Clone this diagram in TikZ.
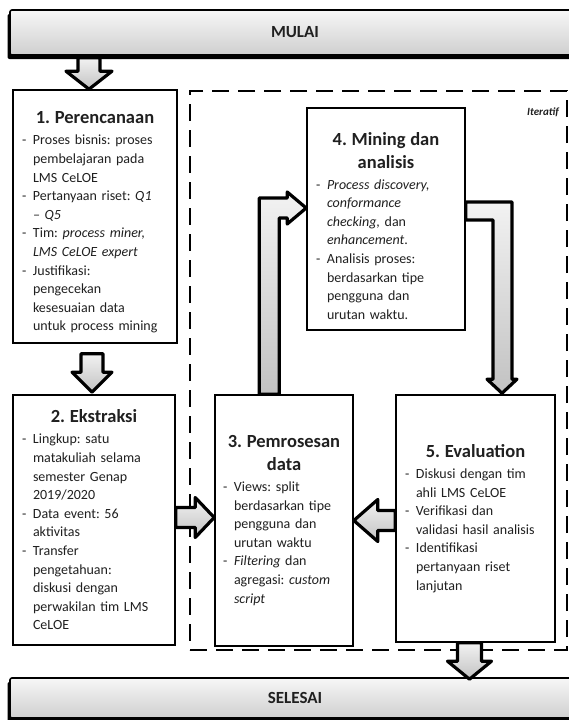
\documentclass[tikz,border=0pt]{standalone}
\usepackage{fontspec}
\setmainfont{Carlito}
\usetikzlibrary{calc,shadows}
\definecolor{txt}{HTML}{202020}
\newcommand\itm[1]{\par\noindent\hangindent=11pt\hangafter=1\makebox[11pt][l]{-}#1\par}
\newcommand\ttl[1]{{\centering\fontsize{18.5}{22.5}\selectfont\bfseries #1\par}\vspace{2.5pt}}
\newcommand\nl{\newline}
\newcommand\dnarr[5]{\draw[blk] let \p1=(#1), \p2=(#2) in (\x2-#3,\y1) -- (\x2+#3,\y1) -- (\x2+#3,\y2+#5) -- (\x2+#4,\y2+#5) -- (\x2,\y2) -- (\x2-#4,\y2+#5) -- (\x2-#3,\y2+#5) -- cycle;}
\newcommand\rtarr[5]{\draw[blk] let \p1=(#1), \p2=(#2) in (\x1,\y2+#3) -- (\x2-#5,\y2+#3) -- (\x2-#5,\y2+#4) -- (\x2,\y2) -- (\x2-#5,\y2-#4) -- (\x2-#5,\y2-#3) -- (\x1,\y2-#3) -- cycle;}
\newcommand\ltarr[5]{\draw[blk] let \p1=(#1), \p2=(#2) in (\x1,\y2+#3) -- (\x2+#5,\y2+#3) -- (\x2+#5,\y2+#4) -- (\x2,\y2) -- (\x2+#5,\y2-#4) -- (\x2+#5,\y2-#3) -- (\x1,\y2-#3) -- cycle;}
\begin{document}
\frenchspacing
\begin{tikzpicture}[x=1pt,y=-1pt,
  bar/.style={draw=black, line width=1.6pt, rounded corners=2pt, top color=gray!6, bottom color=gray!38,
    minimum width=570pt, text=txt, font=\fontsize{17}{20}\selectfont\bfseries,
    drop shadow={shadow xshift=-2.5pt, shadow yshift=-4pt, fill=black, opacity=1}},
  box/.style={draw=black, line width=1.6pt, fill=white, inner xsep=9pt, inner ysep=0pt, text=txt,
    font=\fontsize{14}{18.6}\selectfont\frenchspacing},
  frame/.style={draw=black, line width=2pt, dash pattern=on 17pt off 9pt, inner sep=0pt},
  blk/.style={draw=black, line width=3.2pt, line join=round, top color=gray!10, bottom color=gray!48}]
\useasboundingbox (0,0) rectangle (569,720);
\fill[white] (0,0) rectangle (569,720);

% bars
\node[bar, minimum height=45pt] (mulai) at (295,32.5) {MULAI};
\node[bar, minimum height=40pt] (selesai) at (295,698) {SELESAI};

% iterative frame
\node[frame, minimum width=377pt, minimum height=559pt] (frame) at (378.5,370.5) {};
\node[anchor=east, inner sep=0pt, text=txt, font=\fontsize{11}{13}\selectfont\bfseries\itshape] (iter) at (559,112) {Iteratif};

% boxes
\node[box, minimum width=164pt, minimum height=253pt, text width=146pt] (b1) at (95,216.5) {\parindent=0pt\raggedright
\ttl{\rule{0pt}{24pt}1. Perencanaan}
\itm{Proses bisnis: proses\nl pembelajaran pada\nl LMS CeLOE}
\itm{Pertanyaan riset: \textit{Q1}\nl \textit{– Q5}}
\itm{Tim: \textit{process miner,}\nl \textit{LMS CeLOE expert}}
\itm{Justifikasi:\nl pengecekan\nl kesesuaian data\nl untuk process mining}};

\node[box, minimum width=162pt, minimum height=250pt, text width=144pt] (b2) at (94,520) {\parindent=0pt\raggedright
\ttl{2. Ekstraksi}
\itm{Lingkup: satu\nl matakuliah selama\nl semester Genap\nl 2019/2020}
\itm{Data event: 56\nl aktivitas}
\itm{Transfer\nl pengetahuan:\nl diskusi dengan\nl perwakilan tim LMS\nl CeLOE}};

\node[box, minimum width=138pt, minimum height=251pt, text width=122pt, inner xsep=8pt] (b3) at (284,520.5) {\parindent=0pt\raggedright
\ttl{3. Pemrosesan\\data}
\itm{Views: split\nl berdasarkan tipe\nl pengguna dan\nl urutan waktu}
\itm{\textit{Filtering} dan\nl agregasi: \textit{custom}\nl \textit{script}}};

\node[box, minimum width=158pt, minimum height=222pt, text width=140pt] (b4) at (386,219) {\parindent=0pt\raggedright
\ttl{\rule{0pt}{27pt}4. Mining dan\\analisis}
\itm{\textit{Process discovery,}\nl \textit{conformance}\nl \textit{checking,} dan\nl \textit{enhancement}.}
\itm{Analisis proses:\nl berdasarkan tipe\nl pengguna dan\nl urutan waktu.}};

\node[box, minimum width=159pt, minimum height=247pt, text width=141pt] (b5) at (475.5,518.5) {\parindent=0pt\raggedright
\ttl{5. Evaluation}
\itm{Diskusi dengan tim\nl ahli LMS CeLOE}
\itm{Verifikasi dan\nl validasi hasil analisis}
\itm{Identifikasi\nl pertanyaan riset\nl lanjutan}};

% straight block arrows
\dnarr{$(b1.north |- mulai.south)+(0,2)$}{$(b1.north)+(-6,0)$}{11pt}{23pt}{18pt}
\dnarr{$(b1.south)+(0,10)$}{$(b2.north)+(-2,-2)$}{11pt}{20pt}{20pt}
\dnarr{b5.south}{$(b5.south |- selesai.north)+(-6,2)$}{12pt}{22pt}{18pt}
\rtarr{b2.east}{$(b3.west)+(0,-3)$}{10pt}{20pt}{19pt}
\ltarr{b5.west}{b3.east}{10pt}{21pt}{24pt}

% bent arrow 3 -> 4
\draw[blk] let \p1=($(b3.north west)+(45,0)$), \p2=($(b4.west)+(0,-11)$) in
  (\x1,\y1) -- (\x1,\y2+10pt) -- (\x2-19pt,\y2+10pt) -- (\x2-19pt,\y2+16pt) -- (\x2,\y2)
  -- (\x2-19pt,\y2-16pt) -- (\x2-19pt,\y2-10pt) -- (\x1+20pt,\y2-10pt) -- (\x1+20pt,\y1) -- cycle;

% bent arrow 4 -> 5
\draw[blk] let \p1=($(b4.east)+(0,-8)$), \p2=($(b5.north)+(26.5,-1)$) in
  (\x1,\y1+9pt) -- (\x2+10pt,\y1+9pt) -- (\x2+10pt,\y2+14pt) -- (\x2+15pt,\y2+14pt) -- (\x2,\y2)
  -- (\x2-15pt,\y2+14pt) -- (\x2-9pt,\y2+14pt) -- (\x2-9pt,\y1-9pt) -- (\x1,\y1-9pt) -- cycle;
\end{tikzpicture}
\end{document}
